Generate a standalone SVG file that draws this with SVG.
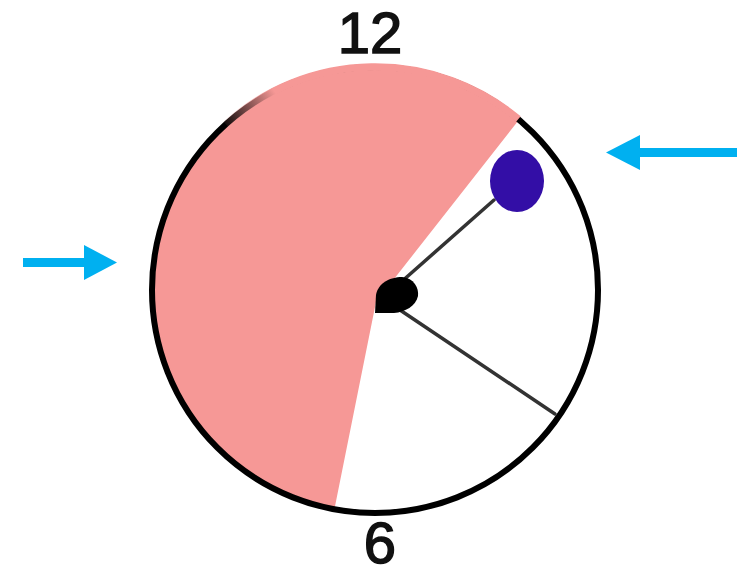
<svg xmlns="http://www.w3.org/2000/svg" width="751" height="576" viewBox="0 0 751 576">
  <style>
    .label { font-family: "Liberation Sans", Arial, sans-serif; font-size: 58px; fill: #111; stroke: #111; stroke-width: 1.5; text-anchor: middle; }
    .hand { stroke: #333; stroke-width: 3.5; stroke-linecap: round; fill: none; }
    .arrow { fill: #00b0f0; }
    .rim-cover { fill: none; stroke: url(#rimFade); stroke-width: 7.5; }
  </style>
  <defs>
    <linearGradient id="rimFade" gradientUnits="userSpaceOnUse" x1="222" y1="128" x2="275" y2="92">
      <stop offset="0" stop-color="#f69896" stop-opacity="0"/>
      <stop offset="1" stop-color="#f69896" stop-opacity="1"/>
    </linearGradient>
  </defs>
  <rect width="751" height="576" fill="#ffffff"/>
  <g id="sector">
    <path d="M 376 302 L 519.6 118.9 A 224 224 0 1 0 334.2 510.3 Z" fill="#f69896"/>
  </g>
  <g id="dial">
    <circle cx="375" cy="290" r="223" fill="none" stroke="#000" stroke-width="6"/>
    <path class="rim-cover" d="M 225.8 124.3 A 223 223 0 0 1 518.3 119.2"/>
  </g>
  <g id="connectors">
    <line class="hand" x1="400" y1="283" x2="494" y2="200"/>
    <line class="hand" x1="400" y1="310" x2="555" y2="414"/>
  </g>
  <g id="hub">
    <path d="M 375 313 L 376 295 C 378 283, 390 277, 402 277 C 414 278, 419 288, 418 296 C 416 306, 405 312, 394 313 Z" fill="#000"/>
  </g>
  <g id="weight">
    <ellipse cx="517" cy="181" rx="27" ry="31" fill="#330ea6"/>
  </g>
  <g id="label-12">
    <text class="label" x="370" y="53">12</text>
  </g>
  <g id="label-6">
    <text class="label" x="380" y="563">6</text>
  </g>
  <g id="arrow-left">
    <rect class="arrow" x="23" y="258" width="63" height="9"/>
    <polygon class="arrow" points="84,245 117,262.5 84,280"/>
  </g>
  <g id="arrow-right">
    <rect class="arrow" x="638" y="148" width="99" height="9"/>
    <polygon class="arrow" points="640,135 606,152.5 640,170"/>
  </g>
</svg>
